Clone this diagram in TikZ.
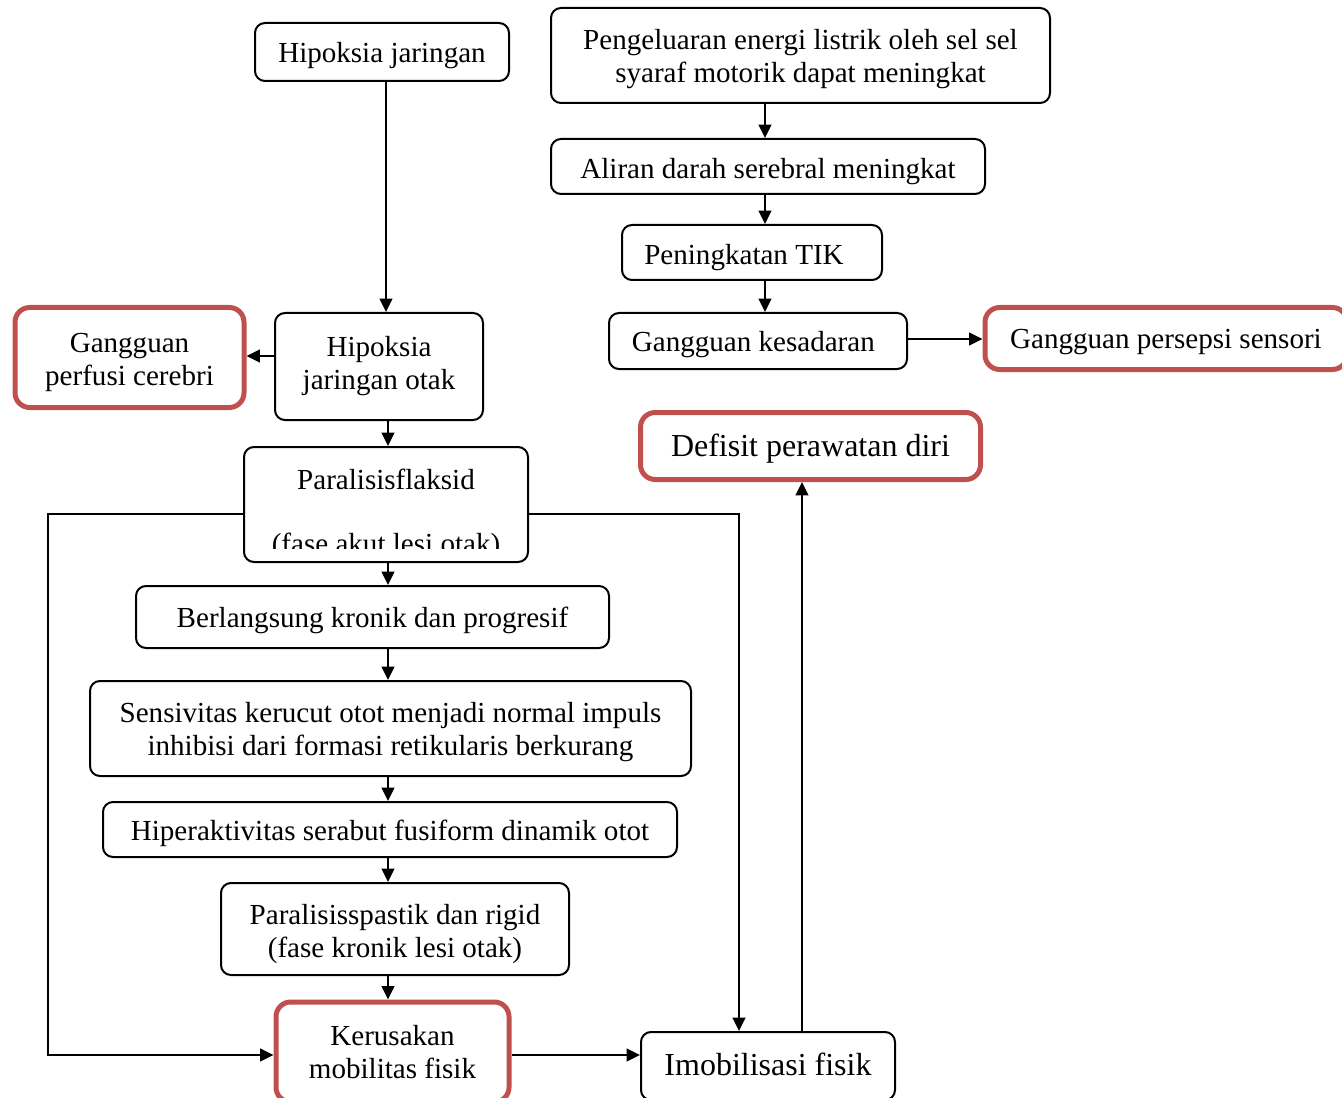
\documentclass[tikz,border=0pt]{standalone}
\usepackage{fontspec}
\setmainfont{Liberation Serif}
\usetikzlibrary{arrows.meta}
\definecolor{redbox}{HTML}{C0504D}
\begin{document}
\begin{tikzpicture}[x=0.75pt,y=-0.75pt,
 box/.style={draw, line width=1.5pt, rounded corners=7.5pt, inner sep=0pt},
 redb/.style={box, draw=redbox, line width=3.75pt, rounded corners=11pt},
 lb/.style={inner sep=0pt, align=center, font=\fontsize{21.8}{24.75}\selectfont},
 lbig/.style={inner sep=0pt, align=center, font=\fontsize{24}{27}\selectfont},
 arr/.style={line width=1.5pt, -{Triangle[length=10pt,width=9.5pt]}},
 txt/.style={inner sep=0pt, font=\fontsize{21.8}{24.75}\selectfont}]
\useasboundingbox (0,0) rectangle (1342,1098);
% nodes
\node[box, minimum width=190.5pt, minimum height=43.5pt, label={[lb,yshift=-3pt]center:Hipoksia jaringan}] (hj) at (382,52) {};
\node[box, minimum width=374.25pt, minimum height=71.25pt, label={[lb,yshift=-3pt]center:{Pengeluaran energi listrik oleh sel sel\\syaraf motorik dapat meningkat}}] (peng) at (800.5,55.5) {};
\node[box, minimum width=325.5pt, minimum height=41.25pt, label={[lb,yshift=-3.5pt]center:Aliran darah serebral meningkat}] (aliran) at (768,166.5) {};
\node[box, minimum width=195pt, minimum height=41.25pt, label={[lb,yshift=-3.5pt,xshift=-6pt]center:Peningkatan TIK}] (tik) at (752,252.5) {};
\node[box, minimum width=223.5pt, minimum height=42pt, label={[lb,yshift=-3pt,xshift=-3.5pt]center:Gangguan kesadaran}] (kes) at (758,341) {};
\node[redb, minimum width=271.5pt, minimum height=46.5pt, label={[lb,yshift=-3pt]center:Gangguan persepsi sensori}] (pers) at (1166,338.5) {};
\node[redb, minimum width=171.75pt, minimum height=75pt, label={[lb,yshift=-3.5pt]center:{Gangguan\\perfusi cerebri}}] (perf) at (129.5,357.5) {};
\node[box, minimum width=156pt, minimum height=80.25pt, label={[lb]center:{Hipoksia\\jaringan otak}}] (hjo) at (379,366.5) {};
\node[redb, minimum width=255pt, minimum height=50.25pt, label={[lbig,yshift=-2.25pt]center:Defisit perawatan diri}] (def) at (810.5,446) {};
\node[box, minimum width=213pt, minimum height=86.25pt] (para) at (386,504.5) {};
\node[txt, anchor=base] (paraT) at (386,489) {Paralisisflaksid};
\begin{scope}
\clip (250,520) rectangle (522,548);
\node[txt, anchor=base] (paraB) at (386,553) {(fase akut lesi otak)};
\end{scope}
\node[box, minimum width=354.75pt, minimum height=46.5pt, label={[lb,yshift=-2.25pt]center:Berlangsung kronik dan progresif}] (berl) at (372.5,617) {};
\node[box, minimum width=450.75pt, minimum height=71.25pt, label={[lb,yshift=-3pt]center:{Sensivitas kerucut otot menjadi normal impuls\\inhibisi dari formasi retikularis berkurang}}] (sens) at (390.5,728.5) {};
\node[box, minimum width=430.5pt, minimum height=41.25pt, label={[lb,yshift=-3pt]center:Hiperaktivitas serabut fusiform dinamik otot}] (hiper) at (390,829.5) {};
\node[box, minimum width=261pt, minimum height=69pt, label={[lb,yshift=-3.75pt]center:{Paralisisspastik dan rigid\\(fase kronik lesi otak)}}] (spas) at (395,929) {};
\node[redb, minimum width=174.75pt, minimum height=75pt, label={[lb]center:{Kerusakan\\mobilitas fisik}}] (ker) at (392.5,1052) {};
\node[box, minimum width=190.5pt, minimum height=51pt, label={[lbig,yshift=1.5pt]center:Imobilisasi fisik}] (imob) at (768,1066) {};
% guide coordinates
\coordinate (xa) at (386,0);
\coordinate (xb) at (388,0);
\coordinate (xc) at (765,0);
\coordinate (xd) at (802,0);
\coordinate (xe) at (739,0);
\coordinate (ya) at (0,514);
\coordinate (yb) at (0,1055);
\coordinate (yc) at (0,339);
\coordinate (yd) at (0,356);
\coordinate (lc) at (48,514);
\coordinate (ld) at (48,1055);
% connectors
\draw[arr] (hj.south -| xa) -- (hjo.north -| xa);
\draw[arr] (peng.south -| xc) -- (aliran.north -| xc);
\draw[arr] (aliran.south -| xc) -- (tik.north -| xc);
\draw[arr] (tik.south -| xc) -- (kes.north -| xc);
\draw[arr] (kes.east |- yc) -- (pers.west |- yc);
\draw[arr] (hjo.west |- yd) -- (perf.east |- yd);
\draw[arr] (hjo.south -| xb) -- (para.north -| xb);
\draw[arr] (para.south -| xb) -- (berl.north -| xb);
\draw[arr] (berl.south -| xb) -- (sens.north -| xb);
\draw[arr] (sens.south -| xb) -- (hiper.north -| xb);
\draw[arr] (hiper.south -| xb) -- (spas.north -| xb);
\draw[arr] (spas.south -| xb) -- (ker.north -| xb);
\draw[arr] (para.west |- ya) -- (lc) -- (ld) -- (ker.west |- yb);
\draw[arr] (para.east |- ya) -- (xe |- ya) -- (imob.north -| xe);
\draw[arr] (ker.east |- yb) -- (imob.west |- yb);
\draw[arr] (imob.north -| xd) -- (def.south -| xd);
\end{tikzpicture}
\end{document}
